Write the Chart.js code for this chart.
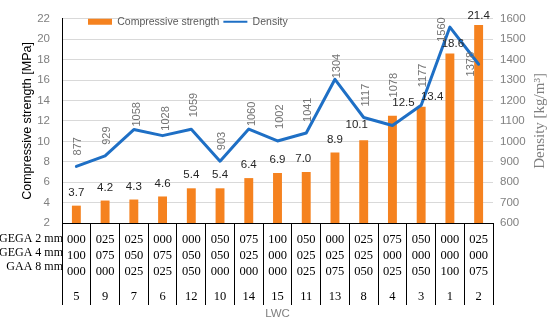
<!DOCTYPE html>
<html><head><meta charset="utf-8">
<script src="https://cdn.jsdelivr.net/npm/chart.js@4/dist/chart.umd.min.js"></script>
<style>html,body{margin:0;padding:0;background:#fff}#wrap{width:550px;height:322px;position:relative}</style>
</head><body><div id="wrap"><canvas id="c" width="550" height="322"></canvas></div>
<script>
// ---- data ----
const lwc      = ['5','9','7','6','12','10','14','15','11','13','8','4','3','1','2'];
const gega2    = ['000','025','025','000','000','050','075','100','050','000','025','075','050','000','025'];
const gega4    = ['100','075','050','075','050','050','025','000','025','025','025','000','000','000','000'];
const gaa8     = ['000','000','025','025','050','000','000','000','025','075','050','025','050','100','075'];
const rowNames = ['GEGA 2 mm','GEGA 4 mm','GAA 8 mm'];
const strength = [3.7,4.2,4.3,4.6,5.4,5.4,6.4,6.9,7.0,8.9,10.1,12.5,13.4,18.6,21.4];
const density  = [877,929,1058,1028,1059,903,1060,1002,1041,1304,1117,1078,1177,1560,1378];

// ---- label nudges (px) ----
const barLabelDx = [0,0,0,0,0,0,0,0,-3,0,-7,11,11,3,0];
const barLabelDy = [0,0,0,0,0,0,0,0,0,0,-3,0,3,3,4];
const densGap    = [11,11,3,5,12,11,3,12,11,1,11,28,18,null,null];
const densDx     = [2,2,3,3,3,2,3,2,2,2,2,2,2,-7.5,-8];
const densCenterShift = [0,0,0,0,0,0,0,0,0,0,0,0,0,-2.5,0];

const ORANGE = '#F5821F';
const BLUE = '#1E6FC5';

const legendPlace = {
  id: 'legendPlace',
  afterInit(chart) {
    const lg = chart.legend; if (!lg) return;
    const fit = lg.fit;
    lg.fit = function () { fit.call(this); this.height = 0; };
  },
  afterLayout(chart) {
    const lg = chart.legend; if (!lg) return;
    lg.top = 12.5; lg.left = 84; lg.right = 550; lg.height = 22; lg.bottom = lg.top + 22; lg.width = 550 - 84;
  }
};

const valueLabels = {
  id: 'valueLabels',
  afterDatasetsDraw(chart) {
    const ctx = chart.ctx;
    const barMeta = chart.getDatasetMeta(0);
    const lineMeta = chart.getDatasetMeta(1);
    ctx.save();
    ctx.font = '11.5px "Liberation Sans"';
    ctx.fillStyle = '#262626';
    ctx.textAlign = 'center'; ctx.textBaseline = 'middle';
    barMeta.data.forEach((el, i) => {
      ctx.fillText(strength[i].toFixed(1), el.x + barLabelDx[i], el.y - 13 + barLabelDy[i]);
    });
    ctx.fillStyle = '#737373';
    ctx.font = '11px "Liberation Sans"';
    lineMeta.data.forEach((pt, i) => {
      ctx.save();
      ctx.translate(pt.x + densDx[i], pt.y);
      ctx.rotate(-Math.PI / 2);
      if (densGap[i] === null) {
        ctx.textAlign = 'center';
        ctx.fillText(String(density[i]), densCenterShift[i], 0);
      } else {
        ctx.textAlign = 'left';
        ctx.fillText(String(density[i]), densGap[i], 0);
      }
      ctx.restore();
    });
    ctx.restore();
  }
};

const extras = {
  id: 'extras',
  afterDraw(chart) {
    const ctx = chart.ctx, xs = chart.scales.x, y1 = chart.scales.y1;
    ctx.save();
    ctx.font = '12px "Liberation Serif"';
    ctx.fillStyle = '#000';
    ctx.textAlign = 'right'; ctx.textBaseline = 'middle';
    rowNames.forEach((t, i) => ctx.fillText(t, xs.left + 1, xs.top + 16 + i * 14));
    ctx.translate(y1.right - 10, (y1.top + y1.bottom) / 2);
    ctx.rotate(-Math.PI / 2);
    ctx.font = '15px "Liberation Serif"';
    ctx.fillStyle = '#7f7f7f';
    ctx.textAlign = 'center';
    ctx.fillText('Density [kg/m\u00B3]', 0, 0);
    ctx.restore();
  }
};

const serif = {family: '"Liberation Serif"', size: 12.5, lineHeight: 1.28};
const sans = {family: '"Liberation Sans"', size: 11.5};

new Chart(document.getElementById('c'), {
  type: 'bar',
  data: {
    labels: gega2.map((v, i) => [v, gega4[i], gaa8[i]]),
    datasets: [
      {type: 'bar', label: 'Compressive strength', data: strength, backgroundColor: ORANGE,
       xAxisID: 'x', yAxisID: 'y', order: 2, barPercentage: 0.31, categoryPercentage: 1, pointStyle: 'rect'},
      {type: 'line', label: 'Density', data: density, borderColor: BLUE, backgroundColor: BLUE,
       borderWidth: 3, pointRadius: 0, tension: 0, borderJoinStyle: 'round', borderCapStyle: 'round',
       xAxisID: 'x', yAxisID: 'y1', order: 1, pointStyle: 'line'}
    ]
  },
  options: {
    responsive: false, animation: false, devicePixelRatio: 1, events: [],
    layout: {padding: {top: 10, left: 0, right: 0, bottom: 0}},
    plugins: {
      tooltip: {enabled: false},
      legend: {
        display: true, position: 'top', align: 'start',
        labels: {usePointStyle: true, pointStyleWidth: 24, boxHeight: 6, padding: 4,
                 color: '#595959', font: {family: '"Liberation Sans"', size: 10.5},
                 sort: (a, b) => a.datasetIndex - b.datasetIndex,
                 generateLabels: (chart) => Chart.defaults.plugins.legend.labels.generateLabels(chart)
                   .map(it => (it.datasetIndex === 1 ? Object.assign(it, {lineWidth: 2.2}) : it))}
      }
    },
    scales: {
      x: {
        type: 'category', position: 'bottom', offset: true,
        grid: {display: true, offset: true, drawOnChartArea: false, drawTicks: true, tickLength: 82, color: '#000', tickColor: '#000', lineWidth: 1, tickWidth: 1},
        border: {display: true, color: '#000', width: 1},
        ticks: {autoSkip: false, maxRotation: 0, minRotation: 0, padding: -73, color: '#000', font: serif},
        afterFit: s => { s.height = 66; }
      },
      x2: {
        type: 'category', position: 'bottom', labels: lwc, offset: true,
        grid: {display: false, drawTicks: false, drawOnChartArea: false},
        border: {display: false},
        ticks: {autoSkip: false, maxRotation: 0, minRotation: 0, padding: 0, color: '#000', font: serif},
        title: {display: true, text: 'LWC', color: '#7f7f7f', font: sans, padding: {top: 0, bottom: 1}},
        afterFit: s => { s.height = 33; }
      },
      y: {
        type: 'linear', position: 'left', min: 2, max: 22,
        ticks: {stepSize: 2, padding: 12, color: '#808080', font: sans, callback: v => String(v)},
        grid: {color: '#d9d9d9', lineWidth: 1, drawTicks: false},
        border: {display: true, color: '#000', width: 1},
        title: {display: true, text: 'Compressive strength [MPa]', color: '#000',
                font: {family: '"Liberation Sans"', size: 12.5}, padding: {top: 20, bottom: 0}},
        afterFit: s => { s.width = 62; }
      },
      y1: {
        type: 'linear', position: 'right', min: 600, max: 1600,
        ticks: {stepSize: 100, padding: 7, color: '#808080', font: sans, callback: v => String(v)},
        grid: {drawOnChartArea: false, drawTicks: false},
        border: {display: false},
        afterFit: s => { s.width = 57; }
      }
    }
  },
  plugins: [legendPlace, valueLabels, extras]
});
</script>
</body></html>
